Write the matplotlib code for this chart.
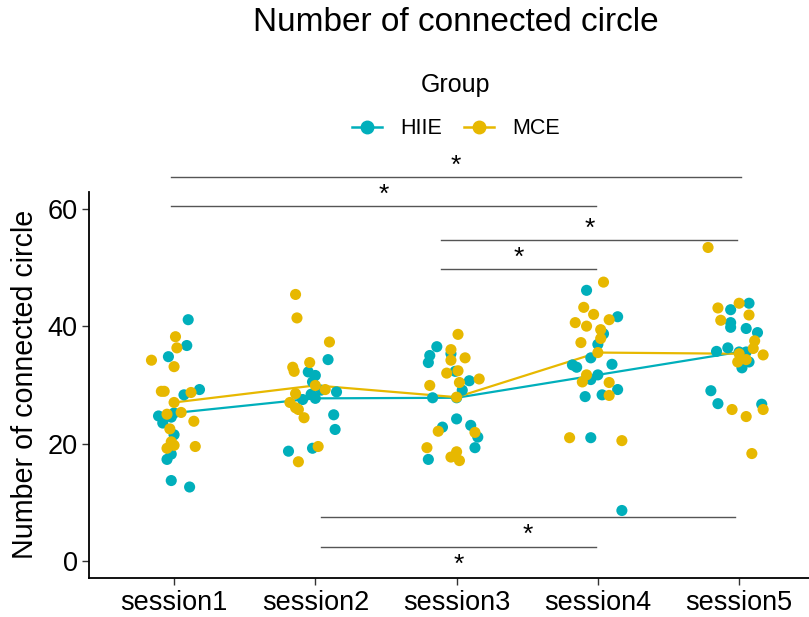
import numpy as np
import matplotlib
matplotlib.use("Agg")
from matplotlib import pyplot as plt
from matplotlib.lines import Line2D

plt.rcParams['font.family'] = ['Liberation Sans', 'DejaVu Sans']

sessions = ['session1', 'session2', 'session3', 'session4', 'session5']
groups = ['HIIE', 'MCE']
colors = {'HIIE': '#00AFBB', 'MCE': '#E7B800'}

# individual values per session
hiie_values = [
    [41.1, 36.7, 34.8, 29.2, 28.3, 24.7, 24.5, 23.5, 21.5, 18.2, 17.3, 13.7, 12.6],
    [34.3, 32.2, 31.6, 30.5, 29.1, 28.8, 28.4, 27.5, 24.9, 22.4, 19.2, 18.7],
    [36.5, 35.0, 33.8, 35.3, 32.3, 30.7, 29.1, 27.8, 24.2, 22.8, 23.1, 21.1, 19.3, 17.3],
    [46.1, 41.6, 38.7, 36.9, 34.6, 33.4, 33.0, 33.5, 30.9, 29.2, 28.0, 28.3, 21.0, 8.6],
    [43.9, 42.8, 40.6, 39.8, 39.6, 38.9, 35.7, 36.3, 35.6, 33.9, 32.9, 29.0, 26.8, 26.7],
]
mce_values = [
    [38.2, 36.3, 34.2, 33.1, 28.9, 28.9, 28.7, 25.0, 25.3, 23.8, 22.5, 20.3, 19.7, 19.2, 19.5],
    [45.4, 41.4, 37.3, 33.8, 33.0, 32.3, 29.2, 28.5, 27.0, 26.1, 25.8, 24.4, 19.5, 16.9],
    [38.6, 36.0, 34.2, 34.6, 32.4, 32.0, 30.4, 31.0, 29.9, 22.1, 21.9, 19.3, 17.7, 18.6, 17.1],
    [47.5, 43.2, 42.0, 40.6, 40.0, 41.1, 39.4, 37.9, 37.2, 31.7, 30.5, 30.4, 28.2, 21.0, 20.5],
    [53.4, 43.1, 43.9, 41.9, 41.0, 37.5, 36.2, 35.1, 34.4, 33.9, 34.3, 25.8, 25.8, 24.6, 18.3],
]

# horizontal jitter of each point (session units), as seen in the picture
hiie_jitter = [
    [0.10, 0.09, -0.04, 0.18, 0.07, -0.11, -0.02, -0.08, 0.00, -0.02, -0.05, -0.02, 0.11],
    [0.09, -0.05, 0.00, -0.02, 0.04, 0.15, -0.03, -0.09, 0.13, 0.14, -0.02, -0.19],
    [-0.14, -0.19, -0.20, -0.04, -0.01, 0.09, 0.04, -0.17, 0.00, -0.10, 0.10, 0.15, 0.13, -0.20],
    [-0.08, 0.14, 0.04, 0.00, -0.05, -0.18, -0.15, 0.10, -0.05, 0.14, -0.09, 0.03, -0.05, 0.17],
    [0.07, -0.06, -0.06, -0.06, 0.05, 0.13, -0.16, -0.08, 0.05, 0.07, 0.02, -0.20, -0.15, 0.16],
]
mce_jitter = [
    [0.01, 0.02, -0.16, 0.00, -0.09, -0.07, 0.12, -0.05, 0.05, 0.14, -0.03, -0.02, 0.00, -0.05, 0.15],
    [-0.14, -0.13, 0.10, -0.04, -0.16, -0.15, 0.07, -0.14, -0.18, -0.14, -0.12, -0.08, 0.02, -0.12],
    [0.01, -0.04, -0.04, 0.06, 0.01, -0.07, 0.02, 0.16, -0.19, -0.13, 0.13, -0.21, -0.04, 0.00, 0.02],
    [0.04, -0.10, -0.03, -0.16, -0.08, 0.08, 0.02, 0.02, -0.12, -0.08, -0.11, 0.08, 0.08, -0.20, 0.17],
    [-0.22, -0.15, 0.00, 0.07, -0.13, 0.11, 0.10, 0.17, 0.01, -0.01, 0.05, -0.05, 0.17, 0.05, 0.09],
]

# group means (line vertices)
hiie_mean = [25.2, 27.7, 27.8, 31.7, 35.6]
mce_mean = [27.0, 29.9, 27.9, 35.5, 35.3]

# significance brackets
bracket_x0 = [-0.025, -0.025, 1.893, 1.893, 1.037, 1.037]
bracket_x1 = [4.016, 2.99, 3.988, 2.99, 3.974, 2.99]
bracket_y = [65.4, 60.4, 54.7, 49.7, 7.5, 2.4]
bracket_label = ['*', '*', '*', '*', '*', '*']
bracket_side = [1, 1, 1, 1, -1, -1]  # label above (1) or below (-1) the line

fig = plt.figure(figsize=(8.09, 6.17), dpi=100)
ax = fig.add_axes([0.1104, 0.0632, 0.908, 0.6261])

x = np.arange(len(sessions))

# lines through the means
for g, means in zip(groups, [hiie_mean, mce_mean]):
    ax.plot(x, means, color=colors[g], lw=1.6, zorder=2)

# jittered points + mean points
for g, vals, jit, means in zip(groups, [hiie_values, mce_values],
                                [hiie_jitter, mce_jitter], [hiie_mean, mce_mean]):
    for i in range(len(sessions)):
        xs = i + np.array(jit[i])
        ax.scatter(xs, vals[i], s=64, color=colors[g], edgecolors='none', zorder=3)
    ax.scatter(x, means, s=64, color=colors[g], edgecolors='none', zorder=3)

# brackets
for x0, x1, y, lab, side in zip(bracket_x0, bracket_x1, bracket_y, bracket_label, bracket_side):
    ax.plot([x0, x1], [y, y], color='#555555', lw=1.0, clip_on=False, zorder=1)
    ax.text((x0 + x1) / 2, y + side * 2.5 - 0.6, lab, ha='center', va='center',
            fontsize=19, color='black', clip_on=False)

ax.set_xlim(-0.6, 4.6)
ax.set_ylim(-2.9, 62.9)
ax.set_xticks(x)
ax.set_xticklabels(sessions)
ax.set_yticks([0, 20, 40, 60])
ax.tick_params(axis='both', labelsize=19.5, length=5, width=1.0, color='#333333', labelcolor='black')
ax.set_ylabel('Number of connected circle', fontsize=20.6, labelpad=6)
for s in ['top', 'right']:
    ax.spines[s].set_visible(False)
for s in ['left', 'bottom']:
    ax.spines[s].set_linewidth(1.3)

fig.text(0.5636, 0.964, 'Number of connected circle', ha='center', va='center', fontsize=24)
fig.text(0.5636, 0.862, 'Group', ha='center', va='center', fontsize=18)

handles = [Line2D([0], [0], color=colors[g], lw=1.8, marker='o', markersize=9) for g in groups]
fig.legend(handles, groups, ncol=2, frameon=False, loc='center',
           bbox_to_anchor=(0.5636, 0.791), fontsize=15.5, handlelength=1.4,
           handletextpad=0.85, columnspacing=1.0)

fig.savefig('out.png', dpi=100)
